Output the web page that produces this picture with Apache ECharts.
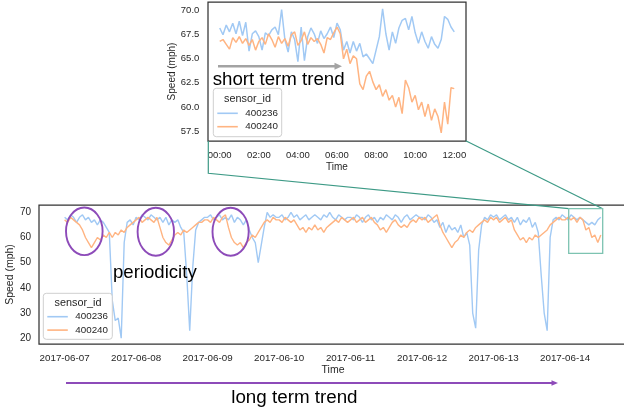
<!DOCTYPE html>
<html><head><meta charset="utf-8">
<script src="https://cdn.jsdelivr.net/npm/echarts@6/dist/echarts.min.js"></script>
<style>html,body{margin:0;padding:0;background:#fff}#c{width:624px;height:414px}</style>
</head><body><div id="c"></div>
<script>
// ---------- data ----------
const seriesNames = ['400236', '400240'];
const mainTickHours = [0, 24, 48, 72, 96, 120, 144, 168];
const mainTickLabels = ['2017-06-07', '2017-06-08', '2017-06-09', '2017-06-10', '2017-06-11', '2017-06-12', '2017-06-13', '2017-06-14'];
const insetTickHours = [0, 2, 4, 6, 8, 10, 12];
const insetTickLabels = ['00:00', '02:00', '04:00', '06:00', '08:00', '10:00', '12:00'];
const mainYTicks = [20, 30, 40, 50, 60, 70];
const insetYTicks = [57.5, 60, 62.5, 65, 67.5, 70];

// main chart: hourly values from 2017-06-07 00:00
const mainStepHours = 1;
const mainBlue = [
  68,67,69,68,66,68,69,67,68,66, 67,65,67,66,64, 62,35,27,28,20,58,66, 67,65,
  68,67,69,68,67,69,68,67, 68,66,68,65,67,66,67,64, 62,45,23,48,63, 66,67,68,
  68,69,67,68,69,67, 68,67,69,66,68,67,65,67, 63,60,58,50,57,64, 70,68,69,68,
  68,69,67,68,70,68,69,67,68,69,67,68,69,68,67,69,68,70,68,67,69,68,67,68,
  68,67,69,68,66,68,69,67,68,66,68,67,69,68,67,69,68,66,68,69,67,68,69,68,
  68,67,69,68,66,67,64,66,62,65,63,64,62,65,60,62,57,30,24,55,65,68,67,69,
  68,69,67,68,69,67,68,66,68,65,67,66,68,64,66,62,45,30,23,60,67,68,67,69,
  68,67,69,68,67,68,67,66,65,66,65,67,68
];
const mainOrange = [
  67,66,68,67,66,65,63,60,58,56,58,60,59,61,60,62,60,62,61,63,62,64,65,66,
  67,68,66,67,68,67,66,68,64,60,58,57,59,61,62,61,63,62,63,64,65,66,66,67,
  67,66,68,67,66,68,69,64,60,58,57,58,56,58,59,61,60,62,64,66,67,66,68,67,
  67,66,68,67,66,67,65,63,64,62,64,63,65,63,64,62,64,65,66,67,66,68,67,66,
  67,68,66,67,68,66,67,68,66,65,63,64,62,64,66,67,65,64,65,64,66,67,66,68,
  67,68,66,67,68,69,65,62,60,58,56,58,59,61,60,62,63,62,64,65,66,67,66,68,
  67,68,66,67,68,66,67,63,61,59,60,58,60,59,61,60,61,62,63,65,66,67,68,67,
  67,68,67,68,66,68,67,63,64,60,61,58,61
];

// inset: 10-minute values, 2017-06-14 00:00 - 12:00
const insetStepHours = 1 / 6;
const insetBlue = [
  68.2,67.5,68.5,67.8,68.7,67.6,68.9,67.4,68.8,65.8,
  67.6,67.9,67.3,65.9,67.7,67.4,68.0,68.3,67.5,70.1,
  67.0,65.7,67.8,67.0,64.7,68.3,64.8,67.3,68.2,67.6,
  66.6,67.9,67.1,67.6,68.3,67.2,68.7,68.0,65.9,66.8,
  65.6,66.8,65.8,66.6,65.2,65.5,65.0,64.5,65.9,67.3,
  70.2,67.6,65.9,67.8,66.6,68.2,69.0,69.2,68.0,69.4,
  67.7,66.6,67.8,66.8,66.1,67.3,66.5,66.1,67.0,69.4,
  69.1,68.3,67.8
];
const insetOrange = [
  66.8,67.0,66.5,66.0,67.2,66.7,67.3,66.6,67.1,66.4,
  67.0,65.9,66.8,67.2,66.5,67.6,67.0,66.2,67.3,66.6,
  67.1,66.3,67.5,67.8,66.4,66.9,67.8,66.5,67.2,66.8,
  67.1,66.5,65.6,67.2,67.0,67.7,68.3,67.6,65.0,66.0,
  64.5,65.3,65.0,62.4,61.8,63.2,63.7,62.6,61.8,62.3,
  61.1,61.8,60.7,61.2,60.0,61.0,59.3,62.8,62.0,60.5,
  61.2,59.7,60.5,59.0,60.3,58.6,59.8,59.0,57.3,60.5,
  58.2,62.0,61.9
];

// ---------- chart ----------
const FONT = '"Liberation Sans", Arial, sans-serif';
const TXT = '#262626';
const BLUE = '#a1c9f4', ORANGE = '#ffb482';
const TEAL = '#3d9a86', TEAL_LIGHT = '#7dc3b1', PURPLE = '#8d4bb9', GRAY = '#a3a3a3';
const toXY = (arr, step) => arr.map((v, i) => [i * step, v]);

const chart = echarts.init(document.getElementById('c'), null, {renderer: 'canvas'});

function xAxisCfg(grid, min, max, ticks, labels, nameGap, fs, margin, nfs) {
  return {
    type: 'value', gridIndex: grid, min: min, max: max,
    name: 'Time', nameLocation: 'middle', nameGap: nameGap, nameMoveOverlap: false,
    nameTextStyle: {color: TXT, fontSize: nfs, fontFamily: FONT},
    axisLine: {show: false}, axisTick: {show: false}, splitLine: {show: false},
    axisLabel: {customValues: ticks, formatter: v => labels[ticks.indexOf(v)] || '',
      color: TXT, fontSize: fs, fontFamily: FONT, margin: margin}
  };
}
function yAxisCfg(grid, min, max, ticks, fmt, nameGap, fs, margin, nfs) {
  return {
    type: 'value', gridIndex: grid, min: min, max: max,
    name: 'Speed (mph)', nameLocation: 'middle', nameGap: nameGap, nameMoveOverlap: false,
    nameTextStyle: {color: TXT, fontSize: nfs, fontFamily: FONT},
    axisLine: {show: false}, axisTick: {show: false}, splitLine: {show: false},
    axisLabel: {customValues: ticks, formatter: fmt, color: TXT, fontSize: fs, fontFamily: FONT, margin: margin}
  };
}
function lineSeries(name, color, data, axis, width) {
  return {
    name: name, type: 'line', xAxisIndex: axis, yAxisIndex: axis, data: data,
    color: color, showSymbol: false, symbol: 'none',
    lineStyle: {color: color, width: width}, emphasis: {disabled: true}, z: 2
  };
}
function legendCfg(left, top) {
  return {
    data: seriesNames, orient: 'vertical', left: left, top: top, padding: 0,
    itemWidth: 20.5, itemHeight: 1.6, itemGap: 1.4, icon: 'rect',
    textStyle: {color: TXT, fontSize: 9.8, fontFamily: FONT, lineHeight: 12, padding: [0, 0, 0, 2.5]},
    selectedMode: false, z: 6
  };
}
const txt = (x, y, s, size, align) => ({
  type: 'text', z: 100,
  style: {x: x, y: y, text: s, font: size + 'px ' + FONT, fill: '#000', align: align || 'left', verticalAlign: 'middle'}
});

const option = {
  animation: false,
  textStyle: {fontFamily: FONT},
  grid: [
    {left: 208, top: 2, width: 258, height: 139, show: true, borderColor: '#333', borderWidth: 1.25, backgroundColor: '#fff',
      containLabel: false, outerBoundsMode: 'none'},
    {left: 39, top: 205, width: 588, height: 139, show: true, borderColor: '#333', borderWidth: 1.25, backgroundColor: '#fff',
      containLabel: false, outerBoundsMode: 'none'}
  ],
  xAxis: [
    xAxisCfg(0, -0.6, 12.6, insetTickHours, insetTickLabels, 21, 9.5, 9.5, 10),
    xAxisCfg(1, -8.6, 188.8, mainTickHours, mainTickLabels, 21, 9.8, 9.5, 10.5)
  ],
  yAxis: [
    yAxisCfg(0, 56.46, 70.9, insetYTicks, v => v.toFixed(1), 31, 9.5, 8.7, 10),
    yAxisCfg(1, 17.7, 72.9, mainYTicks, v => String(v), 23, 10, 8, 10.5)
  ],
  legend: [legendCfg(217.3, 107.3), legendCfg(47.3, 310.7)],
  series: [
    lineSeries(seriesNames[0], BLUE, toXY(insetBlue, insetStepHours), 0, 1.5),
    lineSeries(seriesNames[1], ORANGE, toXY(insetOrange, insetStepHours), 0, 1.5),
    lineSeries(seriesNames[0], BLUE, toXY(mainBlue, mainStepHours), 1, 1.4),
    lineSeries(seriesNames[1], ORANGE, toXY(mainOrange, mainStepHours), 1, 1.4)
  ],
  graphic: [
    // legend boxes + titles
    {type: 'rect', z: 5, shape: {x: 213.3, y: 88.3, width: 68.4, height: 48.4, r: 3},
      style: {fill: 'rgba(255,255,255,0.85)', stroke: '#cfcfcf', lineWidth: 1}},
    {type: 'text', z: 6, style: {x: 247.5, y: 99, text: 'sensor_id', font: '10.8px ' + FONT, fill: TXT, align: 'center', verticalAlign: 'middle'}},
    {type: 'rect', z: 5, shape: {x: 43.3, y: 293.3, width: 69, height: 46, r: 3},
      style: {fill: 'rgba(255,255,255,0.85)', stroke: '#cfcfcf', lineWidth: 1}},
    {type: 'text', z: 6, style: {x: 78, y: 302.7, text: 'sensor_id', font: '10.8px ' + FONT, fill: TXT, align: 'center', verticalAlign: 'middle'}},
    // short term trend arrow + text
    {type: 'line', z: 100, shape: {x1: 218, y1: 66.3, x2: 336, y2: 66.3}, style: {stroke: GRAY, lineWidth: 2.5}},
    {type: 'polygon', z: 100, shape: {points: [[334.5, 62.8], [342, 66.3], [334.5, 69.8]]}, style: {fill: GRAY}},
    txt(212.7, 80, 'short term trend', 18.7),
    // periodicity
    {type: 'ellipse', z: 100, shape: {cx: 84.3, cy: 231.3, rx: 18.3, ry: 23.8}, style: {fill: 'none', stroke: PURPLE, lineWidth: 1.9}},
    {type: 'ellipse', z: 100, shape: {cx: 155.8, cy: 231.7, rx: 18.2, ry: 24}, style: {fill: 'none', stroke: PURPLE, lineWidth: 1.9}},
    {type: 'ellipse', z: 100, shape: {cx: 230.6, cy: 231.7, rx: 18.1, ry: 24}, style: {fill: 'none', stroke: PURPLE, lineWidth: 1.9}},
    txt(113, 272.7, 'periodicity', 18.6),
    // zoom connectors
    {type: 'polyline', z: 100, shape: {points: [[208.3, 141], [208.3, 173.3], [568.7, 208.7]]}, style: {fill: 'none', stroke: TEAL, lineWidth: 1.2}},
    {type: 'line', z: 100, shape: {x1: 465.7, y1: 140.7, x2: 602.7, y2: 208.7}, style: {stroke: TEAL, lineWidth: 1.2}},
    {type: 'rect', z: 100, shape: {x: 568.7, y: 208.7, width: 34, height: 44.6}, style: {fill: 'none', stroke: TEAL_LIGHT, lineWidth: 1.3}},
    // long term trend
    {type: 'line', z: 100, shape: {x1: 66, y1: 383, x2: 553, y2: 383}, style: {stroke: PURPLE, lineWidth: 2}},
    {type: 'polygon', z: 100, shape: {points: [[551.5, 380.2], [558, 383], [551.5, 385.8]]}, style: {fill: PURPLE}},
    txt(294.4, 397.5, 'long term trend', 18.8, 'center')
  ]
};
chart.setOption(option);
</script>
</body></html>
